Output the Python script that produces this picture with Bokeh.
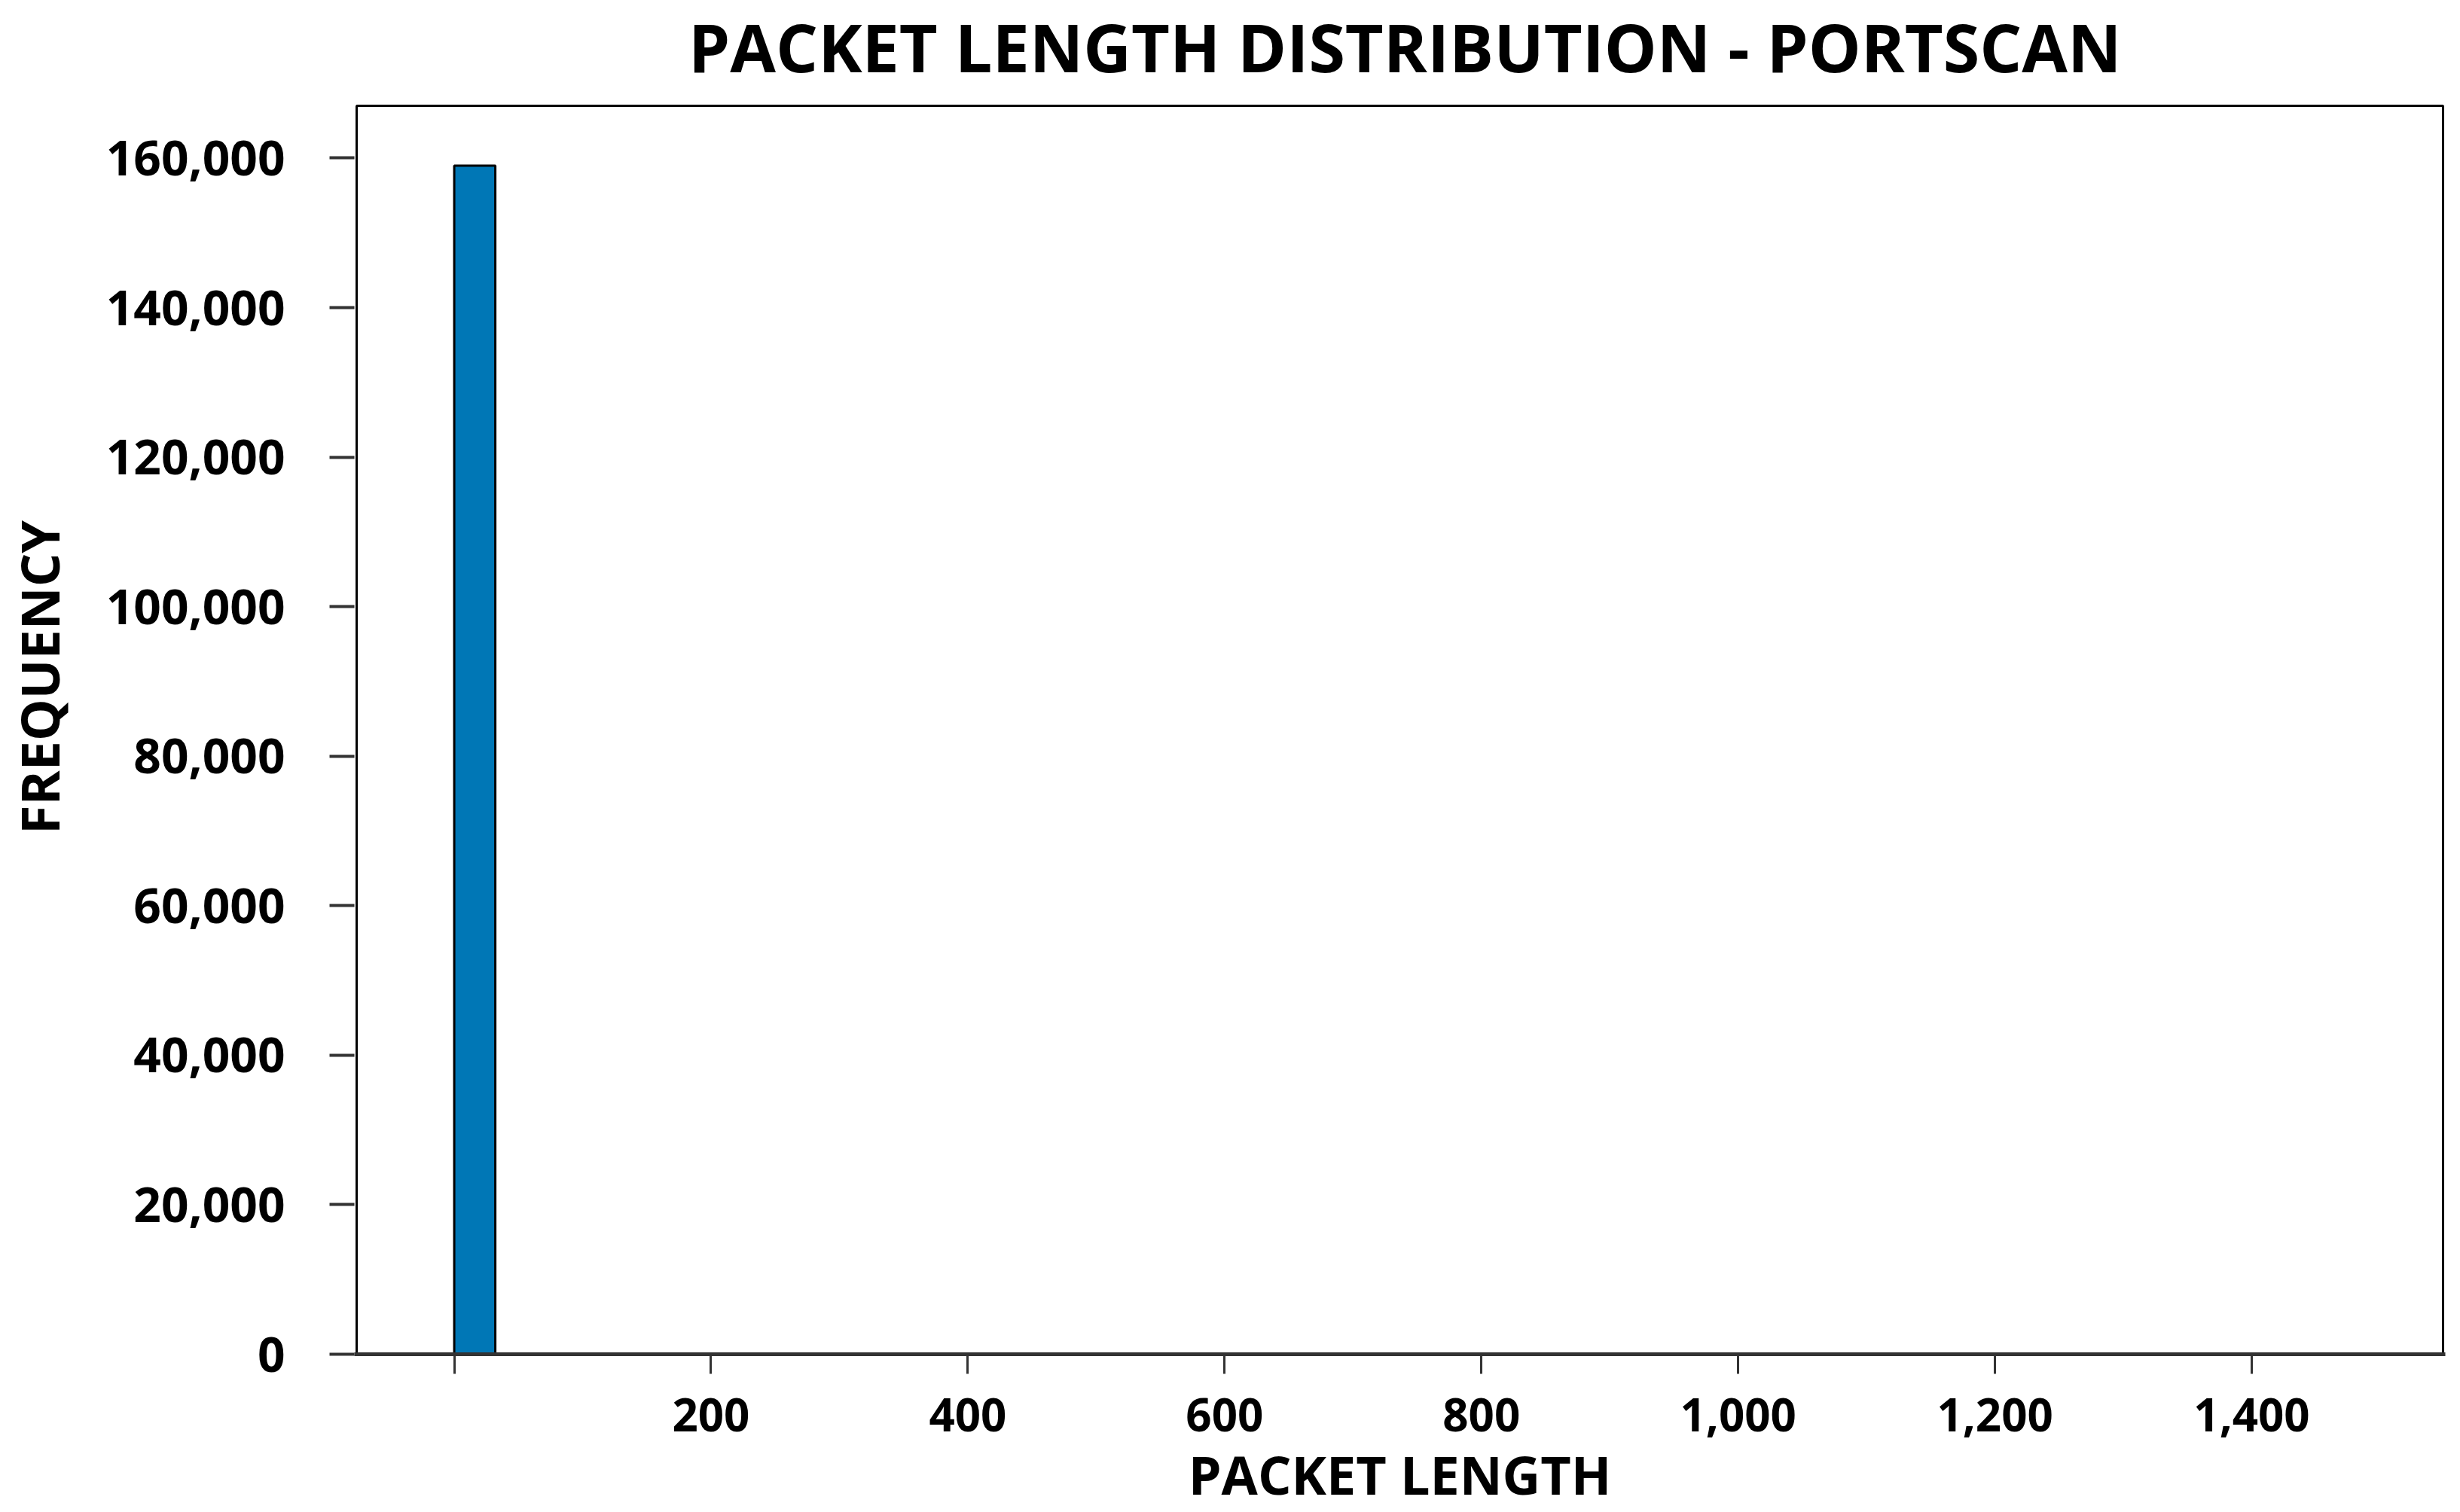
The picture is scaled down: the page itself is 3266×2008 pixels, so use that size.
from bokeh.plotting import figure
from bokeh.models import Range1d, FixedTicker, NumeralTickFormatter, ColumnDataSource
from bokeh.core.properties import value
from bokeh.embed import file_html
from bokeh.resources import INLINE

# ---- data ----
bin_left = [0]
bin_right = [32]
frequency = [159000]
x_ticks = [0, 200, 400, 600, 800, 1000, 1200, 1400]
x_tick_labels = ["", "200", "400", "600", "800", "1,000", "1,200", "1,400"]
y_ticks = [0, 20000, 40000, 60000, 80000, 100000, 120000, 140000, 160000]
title_text = "PACKET LENGTH DISTRIBUTION - PORTSCAN"
x_label_text = "PACKET LENGTH"
y_label_text = "FREQUENCY"

# ---- layout (axis extents and pixel geometry) ----
X_LO, X_HI = -76, 1549          # plot box x extent
PLOT_TOP = 167000               # plot box y extent
W, H = 3266, 2008
BOX_L, BOX_R = 473, 3243        # plot box in pixels
FRAME_BOTTOM = 1798
BOX_TOP = 140
TITLE_POS = 61                  # pixel row of the title anchor
PAD_PX = 3

FONT = "Open Sans"

ux = (X_HI - X_LO) / (BOX_R - BOX_L)
y_end = PLOT_TOP * FRAME_BOTTOM / (FRAME_BOTTOM - BOX_TOP)

p = figure(width=W, height=H, output_backend="svg", toolbar_location=None,
           x_range=Range1d(X_LO - PAD_PX * ux, X_HI + PAD_PX * ux), y_range=Range1d(0, y_end),
           min_border_left=BOX_L - PAD_PX, min_border_right=W - BOX_R - PAD_PX,
           min_border_top=0, min_border_bottom=H - FRAME_BOTTOM)

# plot box
p.quad(left=[X_LO], right=[X_HI], bottom=[0], top=[PLOT_TOP],
       fill_color=None, line_color="black", line_width=3)

# histogram bars
src = ColumnDataSource(dict(left=bin_left, right=bin_right, top=frequency, bottom=[0] * len(frequency)))
p.quad(left="left", right="right", top="top", bottom="bottom", source=src,
       fill_color="#0077B6", line_color="black", line_width=3)

# title
title_y = y_end * (FRAME_BOTTOM - TITLE_POS) / FRAME_BOTTOM
p.text(x=[(X_LO + X_HI) / 2 + 4], y=[title_y], text=[title_text],
       text_font=value(FONT), text_font_style="bold", text_font_size="88px",
       text_align="center", text_baseline="alphabetic", text_color="black")

p.xgrid.visible = False
p.ygrid.visible = False
p.background_fill_color = "white"
p.border_fill_color = "white"
p.outline_line_color = None

# x axis
xa = p.xaxis[0]
xa.ticker = FixedTicker(ticks=x_ticks)
xa.major_label_overrides = {t: l for t, l in zip(x_ticks, x_tick_labels)}
xa.minor_tick_line_color = None
xa.major_tick_in = 0
xa.major_tick_out = 26
xa.major_tick_line_width = 3
xa.major_tick_line_color = "#333333"
xa.axis_line_color = "#333333"
xa.axis_line_width = 5
xa.major_label_text_font = FONT
xa.major_label_text_font_style = "bold"
xa.major_label_text_font_size = "60px"
xa.major_label_text_color = "black"
xa.major_label_standoff = 32
xa.axis_label = x_label_text
xa.axis_label_text_font = FONT
xa.axis_label_text_font_style = "bold"
xa.axis_label_text_font_size = "70px"
xa.axis_label_text_color = "black"
xa.axis_label_standoff = 6

# y axis
ya = p.yaxis[0]
ya.ticker = FixedTicker(ticks=y_ticks)
ya.formatter = NumeralTickFormatter(format="0,0")
ya.minor_tick_line_color = None
ya.major_tick_in = 0
ya.major_tick_out = 33
ya.major_tick_line_width = 4
ya.major_tick_line_color = "#333333"
ya.axis_line_color = None
ya.major_label_text_font = FONT
ya.major_label_text_font_style = "bold"
ya.major_label_text_font_size = "64px"
ya.major_label_text_color = "black"
ya.major_label_standoff = 59
ya.axis_label = y_label_text
ya.axis_label_text_font = FONT
ya.axis_label_text_font_style = "bold"
ya.axis_label_text_font_size = "70px"
ya.axis_label_text_color = "black"
ya.axis_label_standoff = 38

open("out.html", "w").write(file_html(p, INLINE))
